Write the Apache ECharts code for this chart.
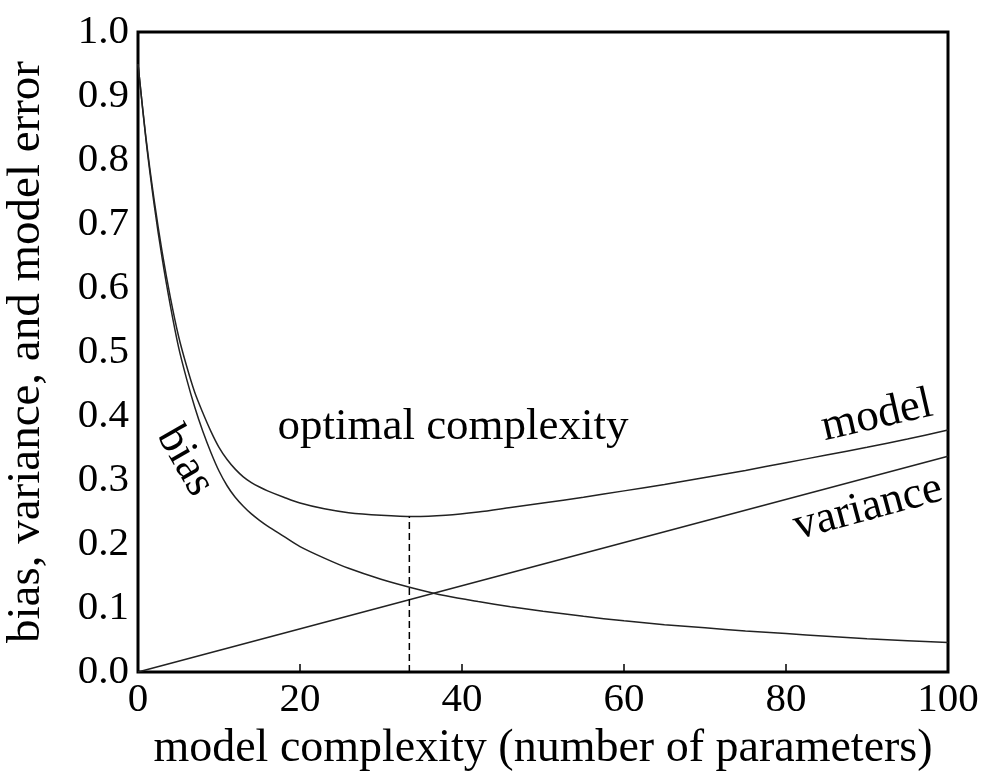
<!DOCTYPE html>
<html>
<head>
<meta charset="utf-8" />
<title>bias variance</title>
<script src="https://cdn.jsdelivr.net/npm/echarts@6/dist/echarts.min.js"></script>
<style>
  html, body { margin: 0; padding: 0; background: #fff; }
  #chart { width: 997px; height: 773px; }
</style>
</head>
<body>
<div id="chart"></div>
<script type="text/javascript">
// values
var complexity = [0, 1, 2, 3, 4, 5, 6, 7, 8, 9, 10, 11, 12, 13, 14, 15, 16, 18, 20, 23, 26, 30, 34, 38, 42, 46, 50, 55, 60, 65, 70, 75, 80, 85, 90, 95, 100];
var bias = [0.95, 0.83, 0.73, 0.645, 0.572, 0.508, 0.458, 0.414, 0.376, 0.343, 0.314, 0.291, 0.273, 0.259, 0.247, 0.237, 0.228, 0.212, 0.196, 0.178, 0.162, 0.145, 0.131, 0.119, 0.110, 0.102, 0.095, 0.087, 0.080, 0.074, 0.069, 0.064, 0.060, 0.056, 0.052, 0.049, 0.046];
var modelErr = [0.95, 0.833, 0.737, 0.655, 0.585, 0.525, 0.478, 0.437, 0.405, 0.376, 0.351, 0.332, 0.317, 0.305, 0.296, 0.289, 0.283, 0.273, 0.264, 0.255, 0.249, 0.245, 0.243, 0.245, 0.250, 0.257, 0.264, 0.273, 0.283, 0.293, 0.304, 0.315, 0.327, 0.339, 0.351, 0.364, 0.378];
var varianceX = [0, 100];
var varianceY = [0, 0.337];
var optimalX = 33.5;
var optimalY = 0.243;

function pairs(xs, ys) {
    var out = [];
    for (var i = 0; i < xs.length; i++) {
        out.push([xs[i], ys[i]]);
    }
    return out;
}

var font = 'Liberation Serif';
var lineStyle = { color: '#222', width: 1.5 };

var myChart = echarts.init(document.getElementById('chart'));

myChart.setOption({
    backgroundColor: '#fff',
    animation: false,
    grid: {
        left: 138,
        right: 49,
        top: 32,
        bottom: 101,
        outerBoundsMode: 'none',
        show: true,
        borderColor: '#000',
        borderWidth: 3,
        backgroundColor: 'transparent'
    },
    xAxis: {
        type: 'value',
        min: 0,
        max: 100,
        interval: 20,
        name: 'model complexity (number of parameters)',
        nameLocation: 'middle',
        nameGap: 50,
        nameTextStyle: { fontFamily: font, fontSize: 46, color: '#000' },
        splitLine: { show: false },
        axisLine: { show: false },
        axisTick: { show: true, inside: true, length: 8, lineStyle: { color: '#000', width: 1.5 } },
        axisLabel: { fontFamily: font, fontSize: 41, color: '#000', margin: 8 }
    },
    yAxis: {
        type: 'value',
        min: 0,
        max: 1,
        interval: 0.1,
        name: 'bias, variance, and model error',
        nameLocation: 'middle',
        nameGap: 88,
        nameTextStyle: { fontFamily: font, fontSize: 47, color: '#000' },
        splitLine: { show: false },
        axisLine: { show: false },
        axisTick: { show: false },
        axisLabel: {
            fontFamily: font,
            fontSize: 41,
            color: '#000',
            margin: 9,
            formatter: function (v) { return v.toFixed(1); }
        }
    },
    series: [{
        name: 'bias',
        type: 'line',
        data: pairs(complexity, bias),
        smooth: 0.3,
        showSymbol: false,
        lineStyle: lineStyle
    }, {
        name: 'model',
        type: 'line',
        data: pairs(complexity, modelErr),
        smooth: 0.3,
        showSymbol: false,
        lineStyle: lineStyle
    }, {
        name: 'variance',
        type: 'line',
        data: pairs(varianceX, varianceY),
        showSymbol: false,
        lineStyle: lineStyle
    }, {
        name: 'optimal',
        type: 'line',
        data: [[optimalX, 0], [optimalX, optimalY]],
        showSymbol: false,
        lineStyle: { color: '#000', width: 1.5, type: [7, 4] }
    }],
    graphic: [{
        type: 'text',
        x: 453, y: 427,
        style: { text: 'optimal complexity', font: '45px "Liberation Serif"', fill: '#000', align: 'center', verticalAlign: 'middle' }
    }, {
        type: 'text',
        x: 877, y: 416,
        rotation: 13 * Math.PI / 180,
        style: { text: 'model', font: '45px "Liberation Serif"', fill: '#000', align: 'center', verticalAlign: 'middle' }
    }, {
        type: 'text',
        x: 868, y: 508,
        rotation: 15 * Math.PI / 180,
        style: { text: 'variance', font: '45px "Liberation Serif"', fill: '#000', align: 'center', verticalAlign: 'middle' }
    }, {
        type: 'text',
        x: 185, y: 461,
        rotation: -60 * Math.PI / 180,
        style: { text: 'bias', font: '45px "Liberation Serif"', fill: '#000', align: 'center', verticalAlign: 'middle' }
    }]
});
</script>
</body>
</html>
